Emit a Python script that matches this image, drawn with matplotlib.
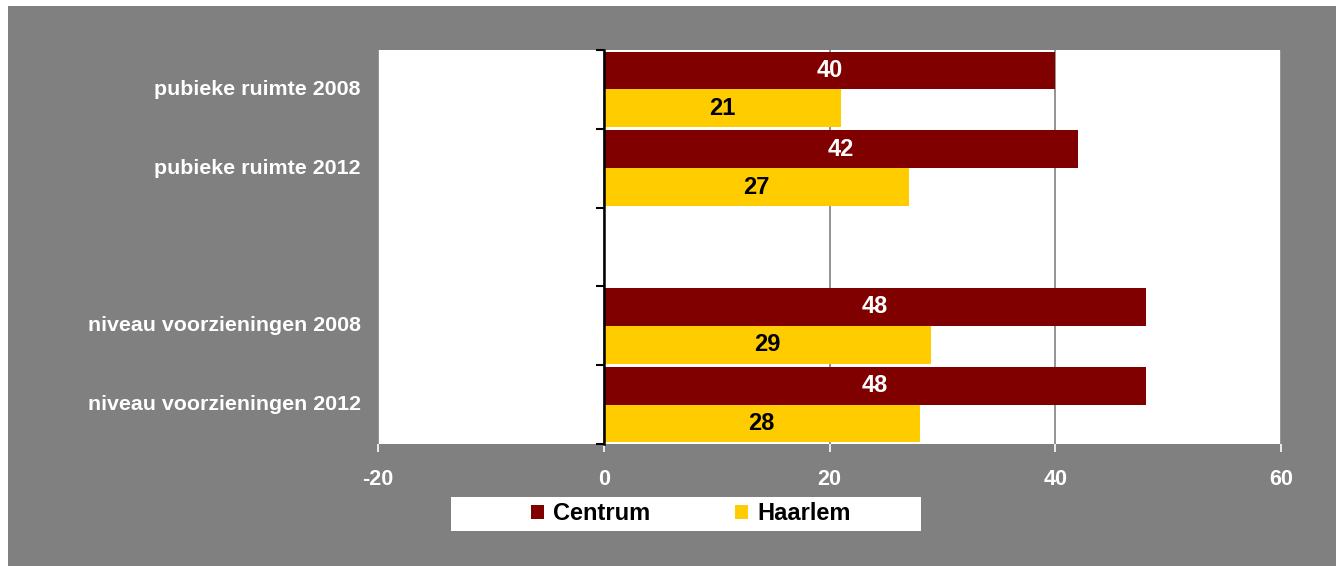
import numpy as np
import matplotlib
matplotlib.use('Agg')
import matplotlib.pyplot as plt
from matplotlib.patches import Rectangle, Patch

# -----------------------
# Data
# -----------------------
categories = ['pubieke ruimte 2008', 'pubieke ruimte 2012', '',
              'niveau voorzieningen 2008', 'niveau voorzieningen 2012']
centrum = [40, 42, np.nan, 48, 48]
haarlem = [21, 27, np.nan, 29, 28]
series_names = ['Centrum', 'Haarlem']
xticks = [-20, 0, 20, 40, 60]

RED = '#800000'
YELLOW = '#FFCC00'
GRAY = '#808080'

plt.rcParams['font.family'] = ['Liberation Sans', 'DejaVu Sans']
plt.rcParams['font.weight'] = 'bold'

fig = plt.figure(figsize=(13.36, 5.66), dpi=100)
fig.patch.set_facecolor('white')
# gray chart area (thin white margin top/left like the source)
fig.patches.append(Rectangle((8 / 1336, 0), 1 - 8 / 1336, 1 - 6 / 566,
                             transform=fig.transFigure, facecolor=GRAY,
                             edgecolor='none', zorder=-10))

ax = fig.add_axes([378 / 1336, 122 / 566, 903 / 1336, 394 / 566])
ax.set_facecolor('white')

y = np.arange(len(categories))
h = 0.48
ax.barh(y - h / 2, centrum, height=h, color=RED, label=series_names[0], zorder=3)
ax.barh(y + h / 2, haarlem, height=h, color=YELLOW, label=series_names[1], zorder=3)

# value labels
for i in range(len(categories)):
    if not np.isnan(centrum[i]):
        ax.text(centrum[i] / 2, y[i] - h / 2, f'{centrum[i]:.0f}', ha='center', va='center',
                color='white', fontsize=17, fontweight='bold', zorder=4)
    if not np.isnan(haarlem[i]):
        ax.text(haarlem[i] / 2, y[i] + h / 2, f'{haarlem[i]:.0f}', ha='center', va='center',
                color='black', fontsize=17, fontweight='bold', zorder=4)

ax.set_xlim(-20, 60)
ax.set_ylim(len(categories) - 0.5, -0.5)
ax.set_xticks(xticks)
ax.set_xticklabels([str(t) for t in xticks], color='white', fontsize=15.5, fontweight='bold')
ax.tick_params(axis='x', direction='out', length=6, width=1.2, color='white', pad=12)
ax.xaxis.grid(True, color=GRAY, linewidth=1.2, zorder=1)
ax.set_axisbelow(True)

# category axis sits at x=0 with ticks between categories
ax.spines['left'].set_position(('data', 0))
ax.spines['left'].set_color('black')
ax.spines['left'].set_linewidth(1.8)
ax.spines['left'].set_zorder(5)
for s in ['top', 'right', 'bottom']:
    ax.spines[s].set_visible(False)
ax.set_yticks(np.arange(len(categories) + 1) - 0.5)
ax.set_yticklabels([])
ax.tick_params(axis='y', direction='out', length=6, width=1.5, color='black')

# category labels at the left of plot area
for i, lab in enumerate(categories):
    ax.annotate(lab, xy=(0, y[i]), xycoords=('axes fraction', 'data'),
                xytext=(-17, 0), textcoords='offset pixels', ha='right', va='center',
                color='white', fontsize=15.4, fontweight='bold', annotation_clip=False)

# legend box
fig.patches.append(Rectangle((451 / 1336, 1 - 531 / 566), 470 / 1336, 34 / 566,
                             transform=fig.transFigure, facecolor='white',
                             edgecolor='none', zorder=-5))
handles = [Patch(facecolor=RED), Patch(facecolor=YELLOW)]
leg = fig.legend(handles, series_names, loc='center', bbox_to_anchor=(691 / 1336, 1 - 514 / 566),
                 ncol=2, frameon=False, prop={'size': 17, 'weight': 'bold'},
                 handlelength=0.55, handleheight=0.55, handletextpad=0.4, columnspacing=3.6)

fig.savefig('out.png', dpi=100, facecolor=fig.get_facecolor())
